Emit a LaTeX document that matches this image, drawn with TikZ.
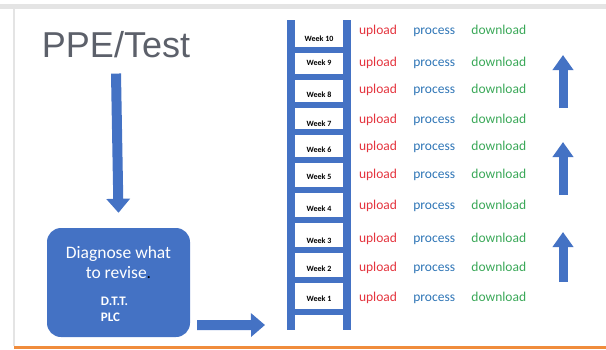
\documentclass[tikz,border=0pt]{standalone}
\usepackage{fontspec}
\setmainfont{Carlito}
\newfontfamily\titlefont{Liberation Sans}
\usetikzlibrary{positioning,arrows.meta}

\definecolor{ladderblue}{RGB}{68,114,196}
\definecolor{titlegray}{RGB}{92,96,106}
\definecolor{upred}{RGB}{228,52,62}
\definecolor{procblue}{RGB}{46,117,182}
\definecolor{dlgreen}{RGB}{58,168,88}
\definecolor{framegray}{RGB}{228,228,228}
\definecolor{lineorange}{RGB}{240,140,60}

\tikzset{
  blockarrow/.style={draw=ladderblue, line width=10pt, -{Triangle[length=14pt,width=23pt]}},
  uparrow/.style={draw=ladderblue, line width=9pt, -{Triangle[length=15pt,width=20pt]}},
  diagbox/.style={fill=ladderblue, rounded corners=14pt, minimum width=143pt, minimum height=109pt,
    text=white, align=center, inner sep=0pt, font=\fontsize{17.5}{20}\selectfont},
  weeklabel/.style={inner sep=0pt, font=\fontsize{8}{9}\selectfont\bfseries},
  rowtext/.style={inner sep=0pt, text height=9.5pt, text depth=3pt, font=\fontsize{13.5}{15}\selectfont},
  uploadtext/.style={rowtext, text=upred},
  processtext/.style={rowtext, text=procblue},
  downloadtext/.style={rowtext, text=dlgreen}
}

\begin{document}
\begin{tikzpicture}[x=1pt, y=-1pt, node distance=16pt]
  \useasboundingbox (0,0) rectangle (606,349);
  \fill[framegray] (0,4) rectangle (606,9);
  \fill[framegray] (13,9) rectangle (15,346);
  \fill[lineorange] (14,346) rectangle (606,349);

  \node[anchor=base, inner sep=0pt, text=titlegray, font=\titlefont\fontsize{36}{40}\selectfont] (title) at (116,57) {PPE/Test};
  \node[diagbox] (diag) at (118.5,282.5)
    {\rule{0pt}{21pt}Diagnose what\\to revise{\color{black}.}\\[7pt]{\fontsize{13}{17}\selectfont\bfseries
      \begin{tabular}[t]{@{}l@{}}D.T.T.\\[-1pt]PLC\end{tabular}\hspace*{8pt}}};

  \draw[blockarrow] ([yshift=-16pt]title.south) -- ([yshift=15pt]diag.north);

  \coordinate (ladin) at (265,325);
  \draw[blockarrow] ([shift={(7,-12)}]diag.south east) -- (ladin);

  \fill[ladderblue] (287,20) rectangle (295,330);
  \fill[ladderblue] (343,20) rectangle (351,330);
  \foreach \y in {50,77,105,132,160,190,220,250,280,312}
    \fill[ladderblue] (295,\y-2.75) rectangle (343,\y+2.75);

  \foreach \w/\ly/\ry in {10/39/31, 9/63/63, 8/95/90, 7/124/120, 6/150/147,
                          5/177/175, 4/209/206, 3/241/239, 2/269/268, 1/299/298} {
    \node[weeklabel] (wk\w) at (319,\ly) {Week \w};
    \node[uploadtext] (up\w) at (378,\ry) {upload};
    \node[processtext, right=of up\w] (pr\w) {process};
    \node[downloadtext, right=of pr\w] (dl\w) {download};
  }

  \coordinate (a1s) at (563,108);
  \coordinate (a1e) at (563,55);
  \coordinate (a2s) at (563,195);
  \coordinate (a2e) at (563,142);
  \coordinate (a3s) at (563,282);
  \coordinate (a3e) at (563,232);
  \draw[uparrow] (a1s) -- (a1e);
  \draw[uparrow] (a2s) -- (a2e);
  \draw[uparrow] (a3s) -- (a3e);
\end{tikzpicture}
\end{document}
